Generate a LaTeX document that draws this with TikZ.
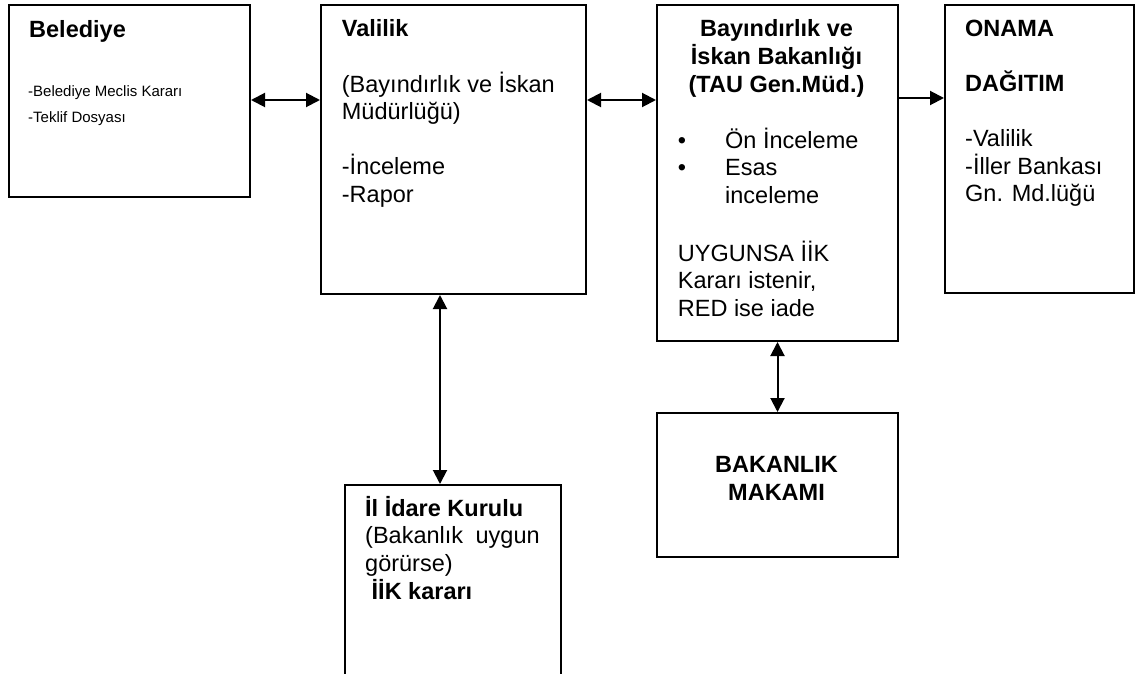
\documentclass[tikz,border=0pt]{standalone}
\usepackage{fontspec}
\setmainfont{Liberation Sans}
\usetikzlibrary{arrows.meta}
\newcommand{\tstrut}[1][23pt]{\rule{0pt}{#1}}
\newcommand{\bul}[1]{\makebox[47.3pt][l]{\textbullet}#1}
\tikzset{
    plain-box/.style = {draw=black, line width=2pt, rectangle, anchor=north west, inner sep=0pt},
    box-text/.style = {anchor=north west, inner sep=0pt, align=left, font=\fontsize{23.5}{27.6}\selectfont},
    box-title/.style = {anchor=north, inner sep=0pt, align=center, font=\fontsize{23.5}{27.6}\selectfont\bfseries},
    link/.style = {line width=2pt, {Triangle[length=14pt,width=14pt]}-{Triangle[length=14pt,width=14pt]}},
    one-way/.style = {line width=2pt, -{Triangle[length=14pt,width=14pt]}},
}

\begin{document}
\begin{tikzpicture}[x=1pt, y=-1pt]
\useasboundingbox (0,0) rectangle (1135,674);
\node[plain-box, minimum width=241pt, minimum height=192pt] (belediye) at (8,4) {};
\node[plain-box, minimum width=265pt, minimum height=289pt] (valilik) at (320,4) {};
\node[plain-box, minimum width=241pt, minimum height=336pt] (bakanlik) at (656,4) {};
\node[plain-box, minimum width=189pt, minimum height=288pt] (onama) at (944,4) {};
\node[plain-box, minimum width=216pt, minimum height=220pt] (idare) at (344,484) {};
\node[plain-box, minimum width=241pt, minimum height=144pt] (makam) at (656,412) {};

\node[box-text] (belediye-head) at (29,14) {\tstrut\textbf{Belediye}};
\node[box-text, font=\fontsize{15}{26}\selectfont] (belediye-list) at (28,81) {\tstrut[15pt]-Belediye Meclis Kararı\\-Teklif Dosyası};
\node[box-text] (valilik-text) at (341.7,13.7) {\tstrut\textbf{Valilik}\\[27.6pt](Bayındırlık ve İskan\\Müdürlüğü)\\[27.6pt]-İnceleme\\-Rapor};
\node[box-title] (bakanlik-head) at (776.5,13.7) {\tstrut Bayındırlık ve\\İskan Bakanlığı\\(TAU Gen.Müd.)};
\node[box-text] (bakanlik-text) at (677.7,125) {\tstrut\bul{Ön İnceleme}\\\bul{Esas}\\\makebox[47.3pt]{}inceleme\\[30pt]UYGUNSA İİK\\Kararı istenir,\\RED ise iade};
\node[box-text] (onama-text) at (965,13) {\tstrut\textbf{ONAMA}\\[27.6pt]\textbf{DAĞITIM}\\[27.6pt]-Valilik\\-İller Bankası\\Gn. Md.lüğü};
\node[box-text] (idare-text) at (365,493) {\tstrut\textbf{İl İdare Kurulu}\\(Bakanlık\hspace{6pt} uygun\\görürse)\\\makebox[6.5pt]{}\textbf{İİK kararı}};
\node[box-title] (makam-text) at (776.5,449.3) {\tstrut BAKANLIK\\MAKAMI};

\draw[link] (belediye.east |- 0,100) -- (valilik.west |- 0,100);
\draw[link] (valilik.east |- 0,100) -- (bakanlik.west |- 0,100);
\draw[one-way] (bakanlik.east |- 0,98) -- (onama.west |- 0,98);
\draw[link] (valilik.south -| 440,0) -- (idare.north -| 440,0);
\draw[link] (bakanlik.south) -- (makam.north);
\end{tikzpicture}
\end{document}
